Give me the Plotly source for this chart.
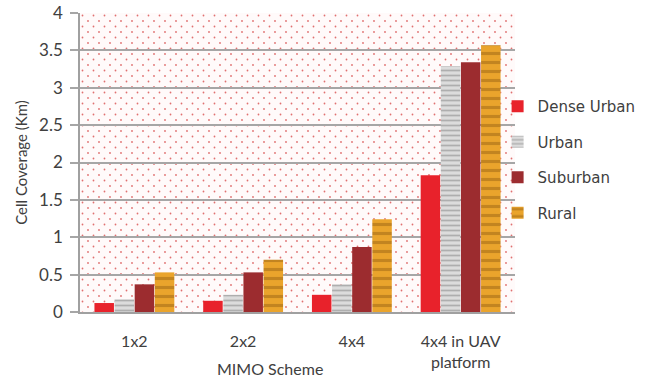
import base64
import plotly.graph_objects as go

# Cell coverage (km) per MIMO scheme and environment
schemes = ["1x2", "2x2", "4x4", "4x4 in UAV<br>platform"]
dense_urban = [0.12, 0.15, 0.23, 1.83]
urban = [0.17, 0.23, 0.37, 3.29]
suburban = [0.37, 0.53, 0.87, 3.34]
rural = [0.53, 0.70, 1.24, 3.57]

y_ticks = [0, 0.5, 1, 1.5, 2, 2.5, 3, 3.5, 4]
y_tick_text = ["0", "0.5", "1", "1.5", "2", "2.5", "3", "3.5", "4"]

W, H = 649, 378
ML, MR, MT, MB = 80, 134, 13, 66
PW, PH = W - ML - MR, H - MT - MB

# dotted texture for the plotting area
svg = f'''<svg xmlns="http://www.w3.org/2000/svg" width="{PW}" height="{PH}">
<defs><pattern id="d" width="11" height="11" patternUnits="userSpaceOnUse">
<circle cx="2.5" cy="2.5" r="0.9" fill="#e07070"/>
<circle cx="8" cy="8" r="0.9" fill="#e07070"/>
</pattern></defs>
<rect width="{PW}" height="{PH}" fill="#fffafa"/>
<rect width="{PW}" height="{PH}" fill="url(#d)"/>
</svg>'''
bg_src = "data:image/svg+xml;base64," + base64.b64encode(svg.encode()).decode()

fig = go.Figure()
series = [
    ("Dense Urban", dense_urban, dict(color="#e8222b")),
    ("Urban", urban, dict(color="#d4d4d4",
                          pattern=dict(shape="-", fgcolor="#7f7f7f", bgcolor="#dcdcdc",
                                       size=5, solidity=0.35))),
    ("Suburban", suburban, dict(color="#9c2c2f")),
    ("Rural", rural, dict(color="#e8a02a",
                          pattern=dict(shape="-", fgcolor="#9a6414", bgcolor="#eaa42c",
                                       size=9, solidity=0.35))),
]
for name, vals, marker in series:
    fig.add_trace(go.Bar(x=schemes, y=vals, name=name, marker=marker,
                         marker_line_width=0, legendgroup=name))

fig.update_layout(
    width=W, height=H,
    margin=dict(l=ML, r=MR, t=MT, b=MB, autoexpand=False),
    paper_bgcolor="white",
    plot_bgcolor="rgba(0,0,0,0)",
    barmode="group",
    bargap=0.26,
    bargroupgap=0.03,
    font=dict(family="Lato", size=15, color="#404040"),
    images=[dict(source=bg_src, xref="paper", yref="paper", x=0, y=1,
                 sizex=1, sizey=1, sizing="stretch", layer="below",
                 xanchor="left", yanchor="top")],
    legend=dict(x=0.96, xanchor="left", y=0.51, yanchor="middle",
                font=dict(family="DejaVu Sans", size=15, color="#404040"),
                tracegroupgap=13, bgcolor="rgba(0,0,0,0)"),
    annotations=[dict(text="MIMO Scheme", xref="paper", yref="paper",
                      x=0.31, y=-0.188, yanchor="middle", showarrow=False,
                      font=dict(family="Lato", size=16, color="#404040"))],
)

fig.update_xaxes(
    automargin=False,
    showline=True, linecolor="#a0a0a0", linewidth=1.5,
    ticks="outside", ticklen=14, tickcolor="rgba(0,0,0,0)",
    tickfont=dict(family="Lato", size=16, color="#404040"),
    showgrid=False,
)
fig.update_yaxes(
    automargin=False,
    range=[0, 4], tickvals=y_ticks, ticktext=y_tick_text,
    showline=True, linecolor="#a0a0a0", linewidth=1.5,
    showgrid=True, gridcolor="#a6a6a6", gridwidth=1.5,
    ticks="outside", ticklen=8, tickcolor="#a6a6a6", tickwidth=1.5,
    ticklabelstandoff=4,
    tickfont=dict(family="Lato", size=17, color="#404040"),
    title=dict(text="Cell Coverage (Km)", standoff=8,
               font=dict(family="Lato", size=15, color="#404040")),
    zeroline=False,
)

fig.write_html("out.html")
